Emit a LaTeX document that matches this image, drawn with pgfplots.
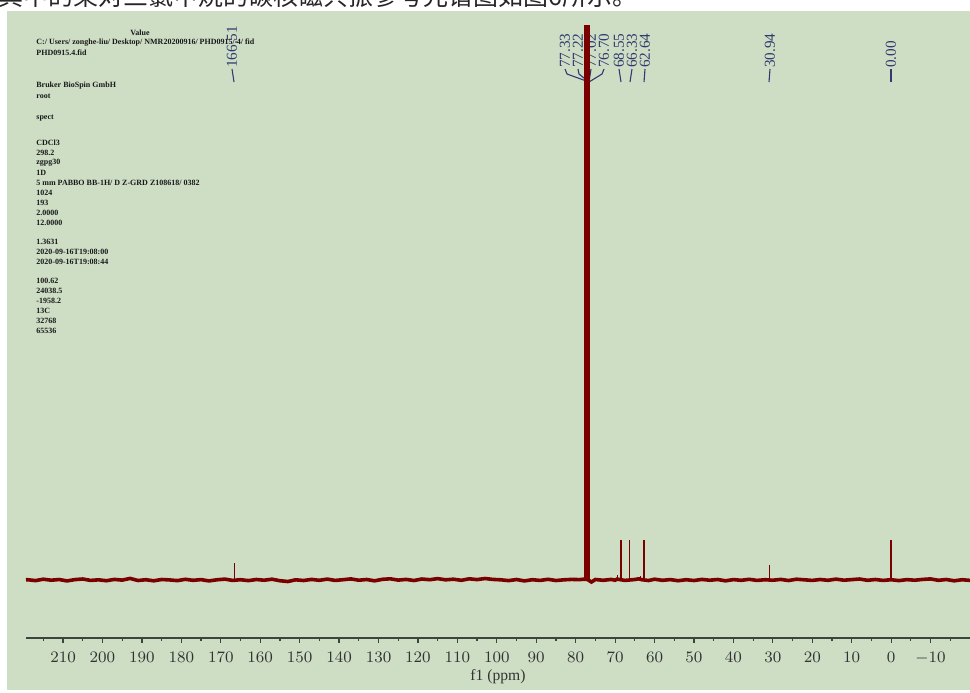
\documentclass[border=0pt]{standalone}
\usepackage{fontspec}
\setmainfont{Liberation Serif}
\newfontfamily\cjk{Noto Sans CJK SC}
\usepackage{pgfplots}
\pgfplotsset{compat=1.18}
\definecolor{bggreen}{RGB}{206,222,197}
\definecolor{specred}{RGB}{122,0,0}
\definecolor{lblblue}{RGB}{48,58,110}
\definecolor{axgray}{RGB}{60,68,60}
\begin{document}
\begin{tikzpicture}
\clip[x=0.5pt,y=-0.5pt] (0,0) rectangle (970,692);
\begin{scope}[x=0.5pt,y=-0.5pt]
\fill[white] (0,0) rectangle (970,692);
\node[anchor=base west, inner sep=0, font=\cjk\fontsize{12.5pt}{14pt}\selectfont, text=black!85] at (-2,5) {其中的某对三氯甲烷的碳核磁共振参考光谱图如图6所示。};
\fill[bggreen] (7,11) rectangle (970,690);
% acquisition parameters
\begingroup
\tikzset{meta/.style={anchor=west, inner sep=0, font=\fontsize{4pt}{4.2pt}\selectfont\bfseries, text=black!90}}
\node[meta, anchor=center] at (140,33) {Value};
\node[meta] at (36,43) {C:/ Users/ zonghe-liu/ Desktop/ NMR20200916/ PHD0915/ 4/ fid};
\node[meta] at (36,53) {PHD0915.4.fid};
\node[meta] at (36,86) {Bruker BioSpin GmbH};
\node[meta] at (36,96) {root};
\node[meta] at (36,118) {spect};
\node[meta] at (36,143) {CDCl3};
\node[meta] at (36,153) {298.2};
\node[meta] at (36,163) {zgpg30};
\node[meta] at (36,173) {1D};
\node[meta] at (36,183) {5 mm PABBO BB-1H/ D Z-GRD Z108618/ 0382};
\node[meta] at (36,193) {1024};
\node[meta] at (36,203) {193};
\node[meta] at (36,213) {2.0000};
\node[meta] at (36,223) {12.0000};
\node[meta] at (36,242) {1.3631};
\node[meta] at (36,252) {2020-09-16T19:08:00};
\node[meta] at (36,262) {2020-09-16T19:08:44};
\node[meta] at (36,281) {100.62};
\node[meta] at (36,291) {24038.5};
\node[meta] at (36,301) {-1958.2};
\node[meta] at (36,311) {13C};
\node[meta] at (36,321) {32768};
\node[meta] at (36,331) {65536};
\endgroup
% peak labels
\begingroup
\tikzset{plab/.style={rotate=90, anchor=west, inner sep=0, font=\fontsize{7.6pt}{8pt}\selectfont, text=lblblue}}
\foreach \xx/\lab in {232/166.51, 565/77.33, 578/77.22, 591/77.02, 604/76.70, 619/68.55, 632/66.33, 645/62.64, 770/30.94, 891/0.00}
  {\node[plab] at (\xx,68) {\lab};}
\draw[lblblue, line width=0.55pt] (232,69)--(234,82);
\draw[lblblue, line width=0.55pt] (565,69)--(567,74)--(589,82);
\draw[lblblue, line width=0.55pt] (578,69)--(579,74)--(589,82);
\draw[lblblue, line width=0.55pt] (591,69)--(589,82);
\draw[lblblue, line width=0.55pt] (604,69)--(602,74)--(589,82);
\draw[lblblue, line width=0.55pt] (619,69)--(621,82);
\draw[lblblue, line width=0.55pt] (632,69)--(630,82);
\draw[lblblue, line width=0.55pt] (645,69)--(644,82);
\draw[lblblue, line width=0.55pt] (770,69)--(769,82);
\draw[lblblue, line width=0.55pt] (891,69)--(891,82);
\endgroup
\end{scope}
\begin{axis}[
  at={(13pt,-319pt)}, anchor=south west,
  scale only axis, width=472pt, height=313.5pt,
  xmin=-20, xmax=219.4, ymin=-58, ymax=569, x dir=reverse,
  axis x line*=bottom, axis y line=none,
  xtick={-10,0,...,210}, minor xtick={-15,-5,...,215},
  tick align=outside, major tick length=2.4pt, minor tick length=1.6pt,
  every tick/.style={axgray, line width=0.6pt},
  x axis line style={axgray, line width=0.9pt},
  xticklabel style={font=\fontsize{7.8pt}{8pt}\selectfont, text=black!80, yshift=-1pt},
  xlabel={f1 (ppm)},
  xlabel style={font=\fontsize{7.8pt}{8pt}\selectfont, text=black!80, yshift=4pt},
]
% baseline with noise
\addplot[specred, line width=1.8pt, mark=none] coordinates {
(219.4,0.2) (219,0.3) (217,-0.6) (215,0.8) (213,-0.2) (211,0.5) (209,-0.9) (207,0.4) (205,1.0) (203,-0.4)
(201,0.2) (199,-0.7) (197,0.6) (195,-0.1) (193,1.6) (191,-0.5) (189,0.3) (187,-0.8) (185,0.5) (183,0.1)
(181,-0.6) (179,0.7) (177,-0.3) (175,0.4) (173,-0.9) (171,0.2) (169,0.9) (167,-0.4) (165,0.3) (163,-0.6)
(161,0.5) (159,-0.2) (157,0.8) (155,-0.7) (153,-1.5) (151,0.2) (149,-0.5) (147,0.6) (145,-0.3) (143,0.9)
(141,-0.4) (139,0.3) (137,1.1) (135,-0.2) (133,0.5) (131,-0.8) (129,0.7) (127,1.2) (125,-0.1) (123,0.6)
(121,-0.5) (119,1.0) (117,0.3) (115,1.4) (113,0.2) (111,0.8) (109,-0.3) (107,1.2) (105,0.4) (103,1.5)
(101,0.6) (99,0.2) (97,-0.6) (95,0.5) (93,-0.9) (91,0.3) (89,-0.4) (87,0.7) (85,-0.5) (83,0.2)
(81,0.6) (79,0.4) (78,0.8) (77,0.5) (76,-2.0) (75,0.5) (73,-0.3) (71,0.6) (70,-0.2) (69.5,0.9)
(67.5,-0.4) (65,0.5) (64,1.2) (63.2,0.3) (61.5,-0.5) (60,0.8) (58,-0.3) (56,0.4) (54,-0.7) (52,0.3)
(50,-0.5) (48,0.6) (46,-0.2) (44,0.5) (42,-0.8) (40,0.4) (38,-0.3) (36,0.7) (34,-0.4) (32,0.3)
(30,-0.2) (28,0.6) (26,-0.5) (24,0.8) (22,0.2) (20,-0.4) (18,0.5) (16,-0.3) (14,0.9) (12,-0.2)
(10,0.4) (8,1.0) (6,-0.3) (4,0.5) (2,-0.4) (0,0.3) (-2,-0.6) (-4,0.4) (-6,-0.2) (-8,0.6)
(-10,1.1) (-12,-0.3) (-14,0.5) (-16,-0.8) (-18,0.3) (-20,-0.4)
};
% medium peaks
\addplot[ycomb, specred, line width=0.8pt, mark=none] coordinates {
(68.55,40) (66.33,40) (62.64,40) (0.00,40)
};
% small peaks
\addplot[ycomb, specred, line width=0.6pt, mark=none] coordinates {
(166.51,17) (30.94,15) (69.3,5) (63.6,4)
};
% solvent CDCl3
\addplot[ycomb, specred, line width=1.7pt, mark=none] coordinates {
(77.33,555) (77.02,555) (76.70,555)
};
\end{axis}
\end{tikzpicture}
\end{document}
